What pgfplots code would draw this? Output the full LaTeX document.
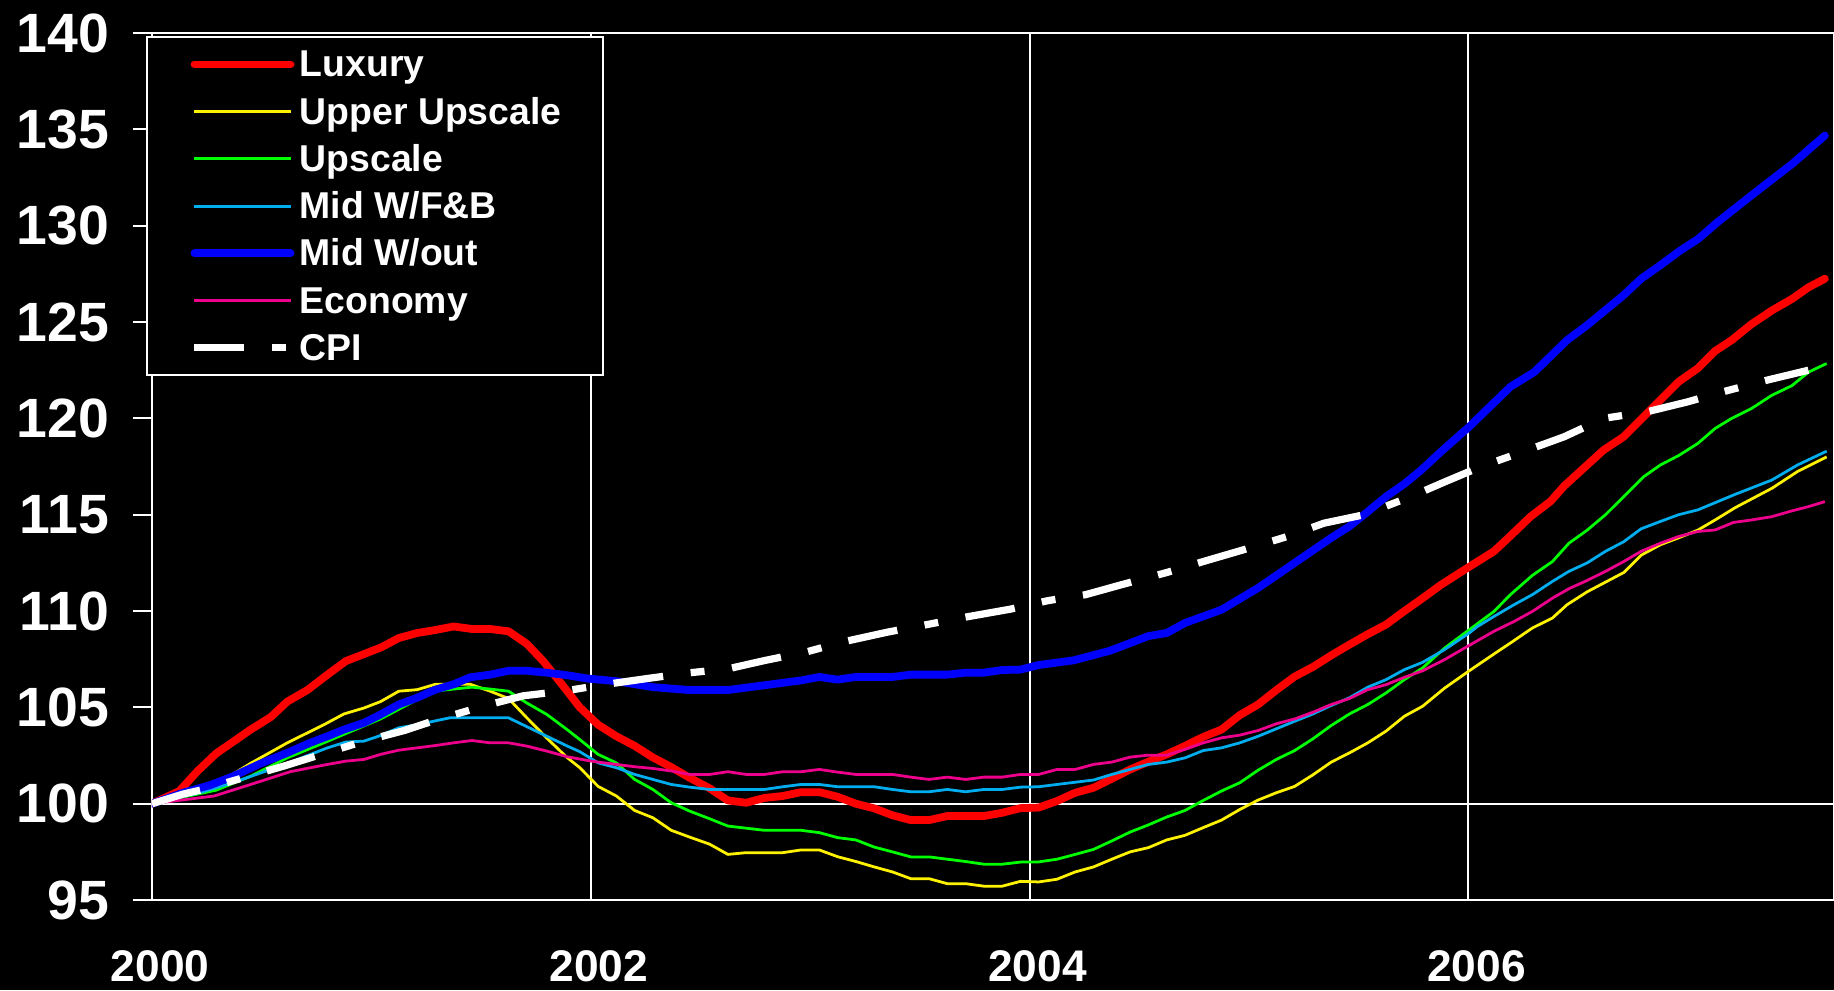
\documentclass[border=0pt]{standalone}
\usepackage{fontspec}
\setmainfont{Liberation Sans}
\usepackage{pgfplots}
\pgfplotsset{compat=1.18}
\definecolor{cpiwhite}{RGB}{255,255,255}
\begin{document}
\begin{tikzpicture}
\fill[black] (0,0) rectangle (660bp,356.3bp);
\useasboundingbox (0,0) rectangle (660bp,356.3bp);
\begin{axis}[
  at={(54.7bp,32.4bp)}, anchor=south west,
  width=605.3bp, height=312bp, scale only axis,
  xmin=0, xmax=92, ymin=95, ymax=140,
  x axis line style={draw=gray, line width=1.1bp},
  y axis line style={draw=white, line width=0.75bp},
  xtick={0,24,48,72}, xticklabels={2000,2002,2004,2006},
  xmajorgrids,
  ytick={95,105,110,115,120,125,130,135,140},
  extra y ticks={100},
  extra y tick style={grid=major},
  major grid style={white, line width=0.75bp},
  tick align=outside,
  xtick pos=bottom, ytick pos=left,
  xtick style={draw=none},
  ytick style={white, line width=0.75bp},
  major tick length=7bp,
  /pgf/number format/assume math mode=true,
  yticklabel style={font=\fontsize{20}{20}\selectfont\bfseries, text=white, xshift=-5bp},
  xticklabel style={font=\fontsize{16}{16}\selectfont\bfseries, text=white, yshift=-7.5bp, xshift=2.9bp},
  every axis plot/.append style={line join=round},
  legend image code/.code={\path (0bp,0bp); \draw[#1] (0.6bp,0bp) -- (35.2bp,0bp);},
  legend cell align=left,
  legend style={at={(0,1)}, anchor=north west, xshift=-2.2bp, yshift=-1.1bp,
    draw=white, line width=0.75bp, fill=black, text=white,
    font=\fontsize{13.5}{13.5}\selectfont\bfseries,
    inner xsep=15.1bp, inner ysep=2.3bp, row sep=2bp,
    nodes={inner sep=0pt, text height=12bp, text depth=3bp},
    /tikz/every odd column/.append style={column sep=1.9bp}},
]
\addplot[red, line width=2.8bp, line cap=round] coordinates {
(0,100) (1.5,100.66) (2.5,101.7) (3.5,102.6) (5.4,103.85) (6.5,104.5) (7.4,105.3) (8.5,105.9) (9.6,106.7) (10.6,107.4) (12.5,108.1) (13.5,108.6) (14.5,108.86) (15.4,109.0) (16.5,109.2) (17.5,109.07) (18.5,109.07) (19.5,108.95) (20.5,108.3) (21.4,107.4) (22.5,106.1) (23.4,105.0) (24.4,104.1) (25.4,103.5) (26.4,103.0) (27.4,102.4) (28.4,101.9) (29.4,101.35) (30.5,100.8) (31.5,100.17) (32.5,100.05) (33.5,100.3) (34.5,100.4) (35.5,100.6) (36.5,100.6) (37.5,100.36) (38.5,100.0) (39.5,99.76) (40.5,99.4) (41.5,99.15) (42.5,99.15) (43.5,99.36) (44.5,99.36) (45.5,99.36) (46.5,99.53) (47.5,99.77) (48.5,99.8) (49.5,100.14) (50.5,100.57) (51.5,100.83) (52.5,101.3) (53.5,101.78) (54.5,102.18) (55.5,102.56) (56.5,103.0) (57.5,103.47) (58.5,103.85) (59.5,104.6) (60.5,105.15) (61.5,105.9) (62.5,106.6) (63.5,107.1) (64.5,107.7) (65.5,108.26) (66.5,108.8) (67.5,109.3) (68.5,110.0) (69.4,110.6) (70.5,111.36) (72.05,112.3) (73.4,113.1) (74.3,113.9) (75.4,114.9) (76.5,115.7) (77.25,116.5) (79.4,118.36) (80.5,119.05) (81.6,120.1) (83.5,121.9) (84.55,122.6) (85.5,123.5) (86.4,124.06) (87.5,124.9) (88.6,125.6) (89.7,126.2) (90.6,126.8) (91.5,127.25)
};
\addlegendentry{Luxury}
\addplot[yellow, line width=1bp] coordinates {
(0,100) (3.5,101.0) (5.4,102.1) (7.4,103.16) (9.4,104.1) (10.5,104.66) (11.6,104.97) (12.5,105.3) (13.5,105.84) (14.5,105.92) (15.5,106.2) (16.5,106.2) (17.4,106.2) (18.5,105.84) (19.5,105.46) (20.5,104.46) (21.6,103.4) (22.7,102.4) (23.4,101.87) (24.4,100.9) (25.4,100.4) (26.4,99.65) (27.4,99.27) (28.4,98.62) (29.4,98.27) (30.5,97.9) (31.5,97.37) (32.5,97.46) (34.5,97.46) (35.5,97.6) (36.5,97.6) (37.5,97.25) (38.5,97.0) (39.5,96.72) (40.5,96.46) (41.5,96.11) (42.5,96.11) (43.5,95.85) (44.5,95.85) (45.5,95.72) (46.5,95.72) (47.5,95.97) (48.5,95.94) (49.5,96.08) (50.5,96.46) (51.5,96.72) (52.5,97.12) (53.5,97.5) (54.5,97.72) (55.5,98.12) (56.5,98.36) (57.5,98.76) (58.5,99.15) (59.5,99.7) (60.5,100.19) (61.5,100.57) (62.5,100.9) (63.5,101.5) (64.5,102.16) (65.5,102.64) (66.5,103.16) (67.5,103.77) (68.5,104.54) (69.5,105.06) (70.7,106.0) (72.05,106.9) (73.4,107.77) (74.3,108.34) (75.5,109.12) (76.6,109.64) (77.4,110.33) (78.5,111.0) (79.5,111.5) (80.5,112.0) (81.45,112.9) (82.5,113.44) (83.5,113.8) (84.55,114.2) (85.5,114.73) (86.6,115.37) (88.6,116.37) (90.0,117.24) (91.6,118.0)
};
\addlegendentry{Upper Upscale}
\addplot[green, line width=1bp] coordinates {
(0,100) (3.5,100.7) (5.4,101.43) (7.4,102.38) (9.4,103.16) (10.5,103.6) (12.5,104.4) (13.5,104.9) (14.5,105.4) (15.5,105.85) (16.5,105.95) (17.5,106.05) (18.5,105.95) (19.5,105.84) (20.5,105.23) (21.6,104.63) (22.7,103.85) (23.4,103.33) (24.4,102.56) (25.4,102.12) (26.4,101.26) (27.4,100.74) (28.4,100.05) (29.4,99.62) (30.5,99.22) (31.5,98.84) (33.5,98.62) (35.5,98.62) (36.5,98.5) (37.5,98.24) (38.5,98.12) (39.5,97.75) (40.5,97.5) (41.5,97.24) (42.5,97.24) (43.5,97.12) (44.5,97.0) (45.5,96.86) (46.5,96.86) (47.5,96.97) (48.5,96.98) (49.5,97.12) (50.5,97.37) (51.5,97.63) (52.5,98.07) (53.5,98.53) (54.5,98.9) (55.5,99.31) (56.5,99.65) (57.5,100.17) (58.5,100.66) (59.5,101.09) (60.5,101.74) (61.5,102.3) (62.5,102.76) (63.5,103.37) (64.5,104.06) (65.5,104.66) (66.5,105.15) (67.5,105.75) (68.5,106.44) (69.5,107.05) (70.7,108.08) (72.05,109.03) (73.4,109.98) (74.3,110.85) (75.5,111.85) (76.6,112.57) (77.5,113.52) (78.5,114.2) (79.5,115.0) (80.5,115.94) (81.6,116.98) (82.5,117.58) (83.5,118.07) (84.55,118.7) (85.5,119.48) (86.4,120.0) (87.5,120.52) (88.6,121.2) (89.7,121.7) (90.6,122.4) (91.6,122.85)
};
\addlegendentry{Upscale}
\addplot[cyan, line width=1bp] coordinates {
(0,100) (2.6,100.57) (4.45,101.1) (7.0,101.95) (9.6,102.9) (10.6,103.2) (11.6,103.25) (12.5,103.54) (13.5,103.94) (14.5,104.1) (15.5,104.3) (16.3,104.46) (17.4,104.46) (19.5,104.46) (20.5,104.0) (21.6,103.5) (22.7,103.0) (23.4,102.7) (24.4,102.12) (25.4,101.87) (26.4,101.52) (27.4,101.26) (28.4,101.0) (29.4,100.86) (30.5,100.74) (33.5,100.74) (34.5,100.88) (35.5,101.0) (36.5,101.0) (37.5,100.88) (39.5,100.88) (40.5,100.74) (41.5,100.62) (42.5,100.62) (43.5,100.74) (44.5,100.62) (45.5,100.74) (46.5,100.74) (47.5,100.86) (48.5,100.88) (49.5,101.0) (51.5,101.23) (52.5,101.52) (53.5,101.78) (54.5,102.04) (55.5,102.16) (56.5,102.38) (57.5,102.76) (58.5,102.9) (59.5,103.16) (60.5,103.5) (61.5,103.89) (62.5,104.28) (63.5,104.66) (64.5,105.1) (65.5,105.5) (66.5,106.05) (67.5,106.44) (68.5,106.96) (69.5,107.34) (70.7,108.0) (72.05,108.86) (72.5,109.2) (73.4,109.72) (74.5,110.33) (75.5,110.85) (76.6,111.54) (77.5,112.06) (78.5,112.5) (79.5,113.1) (80.5,113.6) (81.45,114.27) (82.5,114.65) (83.5,115.0) (84.55,115.25) (86.6,116.06) (88.6,116.8) (90.0,117.58) (91.6,118.3)
};
\addlegendentry{Mid W/F\&B}
\addplot[blue, line width=2.8bp, line cap=round] coordinates {
(0,100) (1.7,100.57) (3.2,100.97) (4.45,101.43) (5.9,102.07) (7.4,102.64) (8.65,103.16) (9.6,103.5) (10.5,103.85) (11.6,104.2) (12.5,104.63) (13.5,105.15) (14.5,105.5) (15.5,105.92) (16.5,106.2) (17.4,106.56) (18.5,106.7) (19.5,106.9) (20.5,106.9) (21.6,106.8) (22.7,106.67) (23.8,106.5) (25.4,106.36) (27.4,106.05) (29.4,105.9) (31.5,105.9) (33.5,106.15) (35.5,106.4) (36.5,106.58) (37.5,106.44) (38.5,106.58) (40.5,106.58) (41.5,106.7) (43.5,106.7) (44.5,106.8) (45.5,106.8) (46.5,106.94) (47.5,106.96) (48.5,107.2) (50.4,107.44) (52.4,107.94) (54.5,108.7) (55.5,108.86) (56.5,109.38) (58.5,110.07) (60.5,111.2) (62.5,112.5) (64.5,113.8) (65.5,114.4) (66.5,115.16) (67.5,115.94) (68.5,116.6) (69.4,117.3) (70.5,118.27) (72.05,119.57) (74.3,121.64) (75.6,122.4) (77.4,124.06) (78.5,124.84) (80.5,126.4) (81.45,127.25) (82.5,127.95) (83.6,128.72) (84.55,129.3) (85.65,130.2) (87.6,131.66) (89.7,133.2) (91.5,134.68)
};
\addlegendentry{Mid W/out}
\addplot[magenta, line width=1bp] coordinates {
(0,100) (3.4,100.4) (5.4,101.0) (7.55,101.66) (9.6,102.04) (10.6,102.21) (11.6,102.3) (12.5,102.56) (13.5,102.78) (14.5,102.9) (15.5,103.02) (16.5,103.16) (17.5,103.28) (18.5,103.16) (19.5,103.16) (20.5,102.99) (21.6,102.73) (22.7,102.44) (23.8,102.25) (24.4,102.16) (25.4,102.04) (26.4,101.92) (27.4,101.83) (28.4,101.7) (29.4,101.52) (30.5,101.52) (31.5,101.66) (32.5,101.52) (33.5,101.52) (34.5,101.66) (35.5,101.66) (36.5,101.78) (37.5,101.64) (38.5,101.52) (40.5,101.52) (41.5,101.38) (42.5,101.26) (43.5,101.38) (44.5,101.26) (45.5,101.38) (46.5,101.38) (47.5,101.52) (48.5,101.52) (49.5,101.78) (50.5,101.78) (51.5,102.04) (52.5,102.16) (53.5,102.42) (54.5,102.52) (55.5,102.52) (56.5,102.82) (57.5,103.16) (58.5,103.42) (59.5,103.56) (60.5,103.8) (61.5,104.15) (62.5,104.4) (63.5,104.75) (64.5,105.15) (65.5,105.46) (66.5,105.92) (67.5,106.18) (68.5,106.56) (69.5,106.9) (70.7,107.48) (72.05,108.22) (73.4,108.95) (74.5,109.46) (75.5,109.98) (76.6,110.67) (77.5,111.16) (78.5,111.59) (79.5,112.06) (80.5,112.57) (81.45,113.1) (82.5,113.52) (83.5,113.87) (84.55,114.13) (85.5,114.21) (86.5,114.6) (87.5,114.73) (88.6,114.9) (89.7,115.2) (90.6,115.42) (91.5,115.68)
};
\addlegendentry{Economy}
\addplot[cpiwhite, line width=2.6bp, dash pattern=on 18bp off 10bp on 5bp off 10bp] coordinates {
(0,100) (1.7,100.5) (2.8,100.74) (5,101.35) (7.2,101.95) (9.4,102.6) (11.6,103.25) (13.8,103.8) (15.4,104.3) (16.1,104.5) (18.1,105.06) (20.3,105.6) (22.7,105.87) (24.5,106.15) (27.1,106.5) (29.45,106.8) (31.5,107.0) (33.5,107.43) (35.8,107.88) (37.8,108.4) (40.2,108.9) (42.4,109.3) (44.4,109.67) (46.96,110.1) (48.05,110.33) (49,110.54) (51.06,110.85) (53,111.36) (55.5,112.0) (57.5,112.57) (59.7,113.18) (62.1,113.87) (64.1,114.56) (66.3,115.0) (68.85,115.94) (70.7,116.7) (72.7,117.5) (75.25,118.36) (77.25,119.05) (79.4,120.0) (81.8,120.35) (84,120.86) (85.8,121.35) (88.4,122.0) (90.6,122.5)
};
\addlegendentry{CPI}
\end{axis}
\end{tikzpicture}
\end{document}
